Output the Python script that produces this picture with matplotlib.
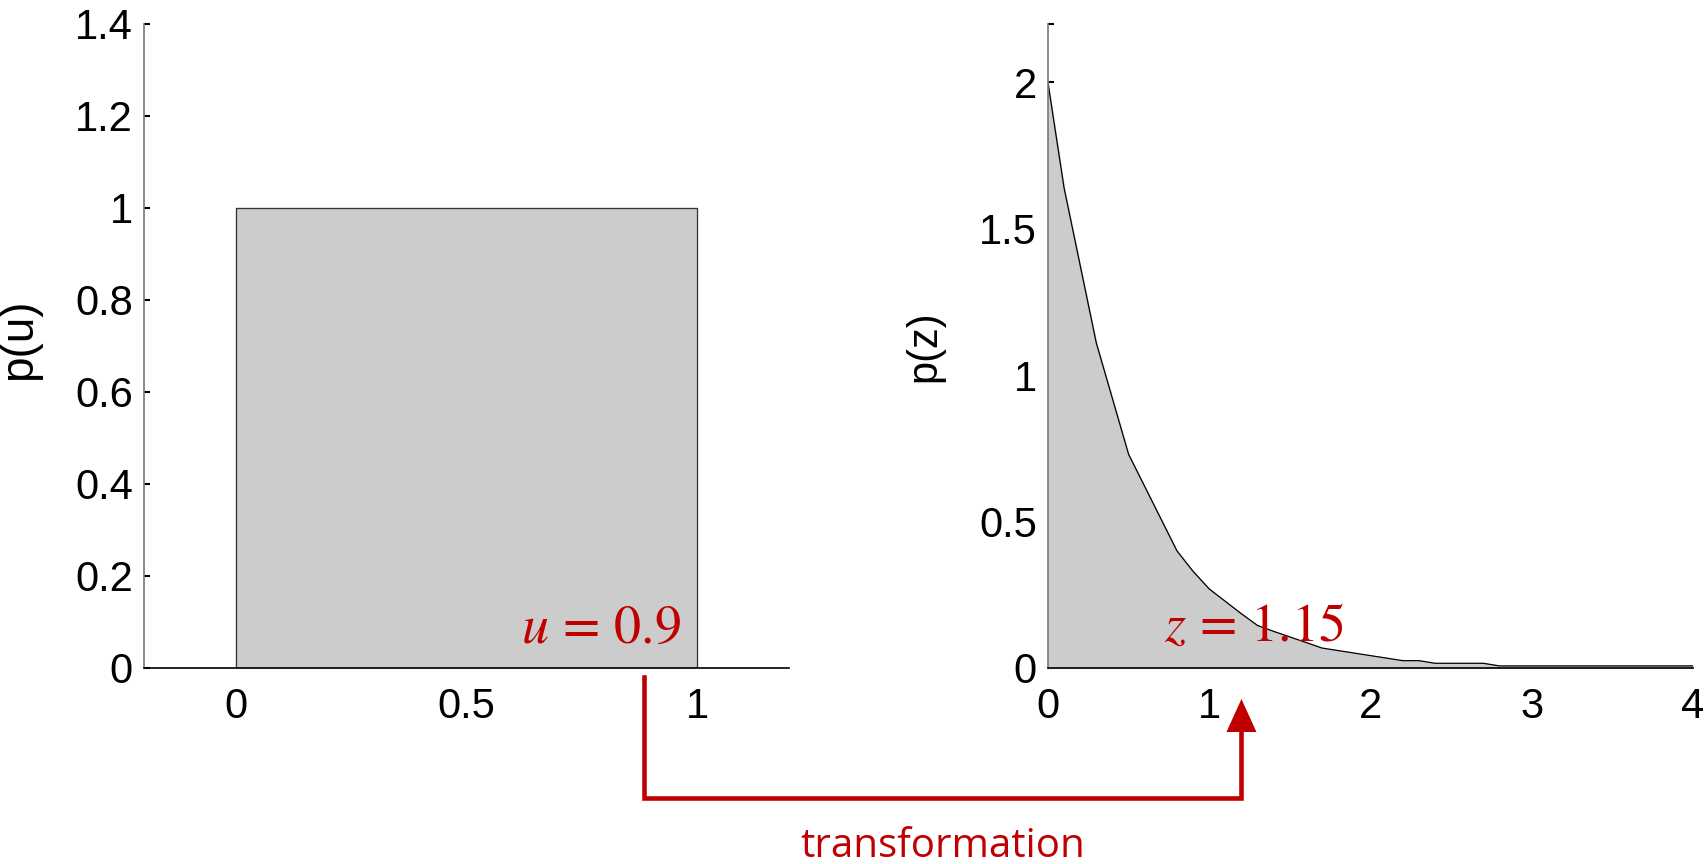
import numpy as np
import matplotlib
matplotlib.use("Agg")
import matplotlib.pyplot as plt
from matplotlib.lines import Line2D
from matplotlib.patches import Polygon

# uniform density p(u)
u_edges = [0.0, 1.0]
u_height = 1.0
u_yticks = [0, 0.2, 0.4, 0.6, 0.8, 1.0, 1.2, 1.4]
u_ylabels = ["0", "0.2", "0.4", "0.6", "0.8", "1", "1.2", "1.4"]
u_xticks = [0, 0.5, 1]
u_xlabels = ["0", "0.5", "1"]

# transformed density p(z)
z_vals = [0.0, 0.1, 0.3, 0.5, 0.8, 0.9, 1.0, 1.2, 1.3, 1.4, 1.7, 2.2, 2.3, 2.4, 2.7, 2.8, 4.0]
pz_vals = [2.0, 1.64, 1.11, 0.73, 0.40, 0.33, 0.27, 0.185, 0.145, 0.125, 0.068,
           0.025, 0.025, 0.016, 0.016, 0.007, 0.007]
z_yticks = [0, 0.5, 1, 1.5, 2, 2.2]
z_ylabels = ["0", "0.5", "1", "1.5", "2", ""]
z_xticks = [0, 1, 2, 3, 4]
z_xlabels = ["0", "1", "2", "3", "4"]

u_sample = 0.885
z_sample = 1.2   # where the arrow lands on the z axis
u_text = r"$u\,=\,0.9$"
z_text = r"$z\,=\,1.15$"

RED = "#c00000"
GRAY = "#cccccc"

plt.rcParams["font.family"] = ["Liberation Sans", "DejaVu Sans"]
plt.rcParams["mathtext.fontset"] = "stix"

fig = plt.figure(figsize=(17.07, 8.64), dpi=100)
ax1 = fig.add_axes([0.0844, 0.2269, 0.3779, 0.7454])
ax2 = fig.add_axes([0.6139, 0.2269, 0.3779, 0.7454])

def style(ax):
    ax.spines["top"].set_visible(False)
    ax.spines["right"].set_visible(False)
    ax.spines["left"].set_color("#777777")
    ax.spines["left"].set_linewidth(1.2)
    ax.spines["bottom"].set_color("black")
    ax.spines["bottom"].set_linewidth(1.2)
    ax.set_axisbelow(True)
    ax.tick_params(axis="y", direction="in", length=4, width=1.5, labelsize=30, pad=8)
    ax.tick_params(axis="x", length=0, labelsize=30, pad=14)

# left panel
ax1.fill_between(u_edges, [u_height, u_height], color=GRAY, zorder=1)
ax1.plot([u_edges[0], u_edges[0], u_edges[1], u_edges[1]],
         [0, u_height, u_height, 0], color="#333333", lw=0.9, zorder=2)
ax1.set_xlim(-0.2, 1.2)
ax1.set_ylim(0, 1.4)
ax1.set_xticks(u_xticks, u_xlabels)
ax1.set_yticks(u_yticks, u_ylabels)
style(ax1)
ax1.set_ylabel("p(u)", fontsize=33)
ax1.yaxis.set_label_coords(-0.16, 0.51)
ax1.text(0.965, 0.055, u_text, color=RED, fontsize=39, ha="right", va="baseline", zorder=3)

# right panel
ax2.fill_between(z_vals, pz_vals, color=GRAY, zorder=1)
ax2.plot(z_vals, pz_vals, color="black", lw=0.9, zorder=2)
ax2.set_xlim(0, 4)
ax2.set_ylim(0, 2.2)
ax2.set_xticks(z_xticks, z_xlabels)
ax2.set_yticks(z_yticks, z_ylabels)
style(ax2)
ax2.set_ylabel("p(z)", fontsize=30)
ax2.yaxis.set_label_coords(-0.16, 0.5)
ax2.text(0.72, 0.092, z_text, color=RED, fontsize=39, ha="left", va="baseline", zorder=3)

# transformation arrow drawn in figure coordinates
inv = fig.transFigure.inverted()
xu = inv.transform(ax1.transData.transform((u_sample, 0)))[0]
xz = inv.transform(ax2.transData.transform((z_sample, 0)))[0]
y_top = 1 - 677 / 864
y_bot = 1 - 798 / 864
y_tip = 1 - 699 / 864
y_base = 1 - 732 / 864
hw = 15 / 1707

fig.add_artist(Line2D([xu, xu, xz, xz], [y_top, y_bot, y_bot, y_base],
                      transform=fig.transFigure, color=RED, lw=3.3,
                      solid_joinstyle="miter"))
fig.add_artist(Polygon([[xz - hw, y_base], [xz + hw, y_base], [xz, y_tip]],
                       closed=True, transform=fig.transFigure, color=RED, lw=0))
fig.text((xu + xz) / 2, 1 - 847 / 864, "transformation", color=RED,
         fontsize=29, family=["Open Sans", "DejaVu Sans"], ha="center", va="center")

fig.savefig("out.png", dpi=100)
